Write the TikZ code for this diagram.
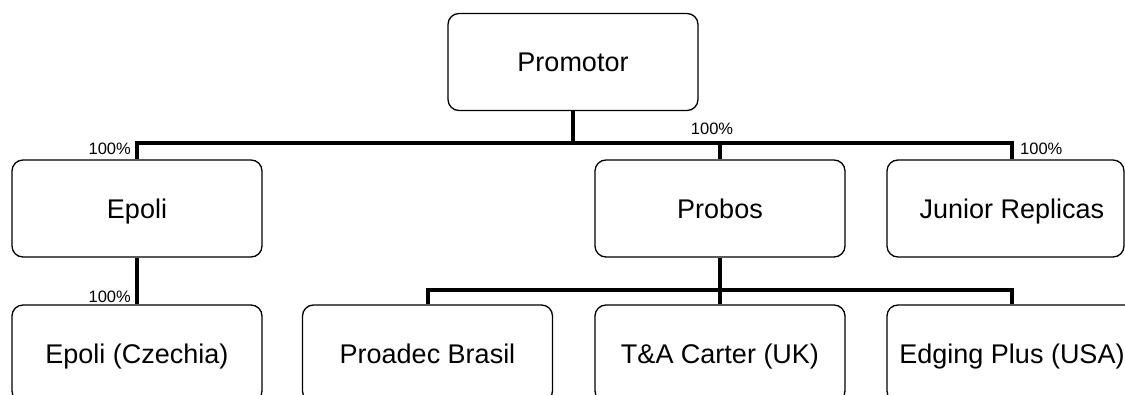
\documentclass[tikz,border=0pt]{standalone}
\usepackage{fontspec}
\setmainfont{Liberation Sans}
\begin{document}
\begin{tikzpicture}[x=1pt,y=-1pt,
  box/.style={draw,line width=1.3pt,rounded corners=11pt,minimum width=250pt,minimum height=97pt,inner sep=0pt,text height=19.5pt,text depth=0pt,font=\fontsize{27}{32}\selectfont},
  bus/.style={line width=4pt},
  pct/.style={font=\fontsize{16.5}{19}\selectfont,inner sep=0pt}]
\useasboundingbox (0,0) rectangle (1125,395);
\clip (0,0) rectangle (1125,395);
\node[box] (prom) at (573,62) {Promotor};
\node[box] (epoli) at (137,208.5) {Epoli};
\node[box] (probos) at (720,208.5) {Probos};
\node[box,minimum width=237pt] (junior) at (1005.5,208.5) {\hspace*{13pt}Junior Replicas};
\node[box] (czech) at (137,353.5) {Epoli (Czechia)};
\node[box] (proadec) at (427.5,353.5) {Proadec Brasil};
\node[box] (carter) at (720,353.5) {T\&A Carter (UK)};
\node[box] (edging) at (1012,353.5) {Edging Plus (USA)};
\coordinate (b1) at (573,143);
\coordinate (b2) at (720,290);
\draw[bus] (prom.south) -- (b1);
\draw[bus] (epoli.north) |- (b1) -| ([xshift=6.5pt]junior.north);
\draw[bus] (probos.north) -- (probos.north |- b1);
\draw[bus] (epoli.south) -- (czech.north);
\draw[bus] (probos.south) -- (b2);
\draw[bus] (proadec.north) |- (b2) -| (edging.north);
\draw[bus] (carter.north) -- (b2);
\node[pct,anchor=base east] (l1) at (131,155) {100\%};
\node[pct,anchor=base] (l2) at (712,135) {100\%};
\node[pct,anchor=base west] (l3) at (1020,155) {100\%};
\node[pct,anchor=base east] (l4) at (131,303) {100\%};
\end{tikzpicture}
\end{document}
